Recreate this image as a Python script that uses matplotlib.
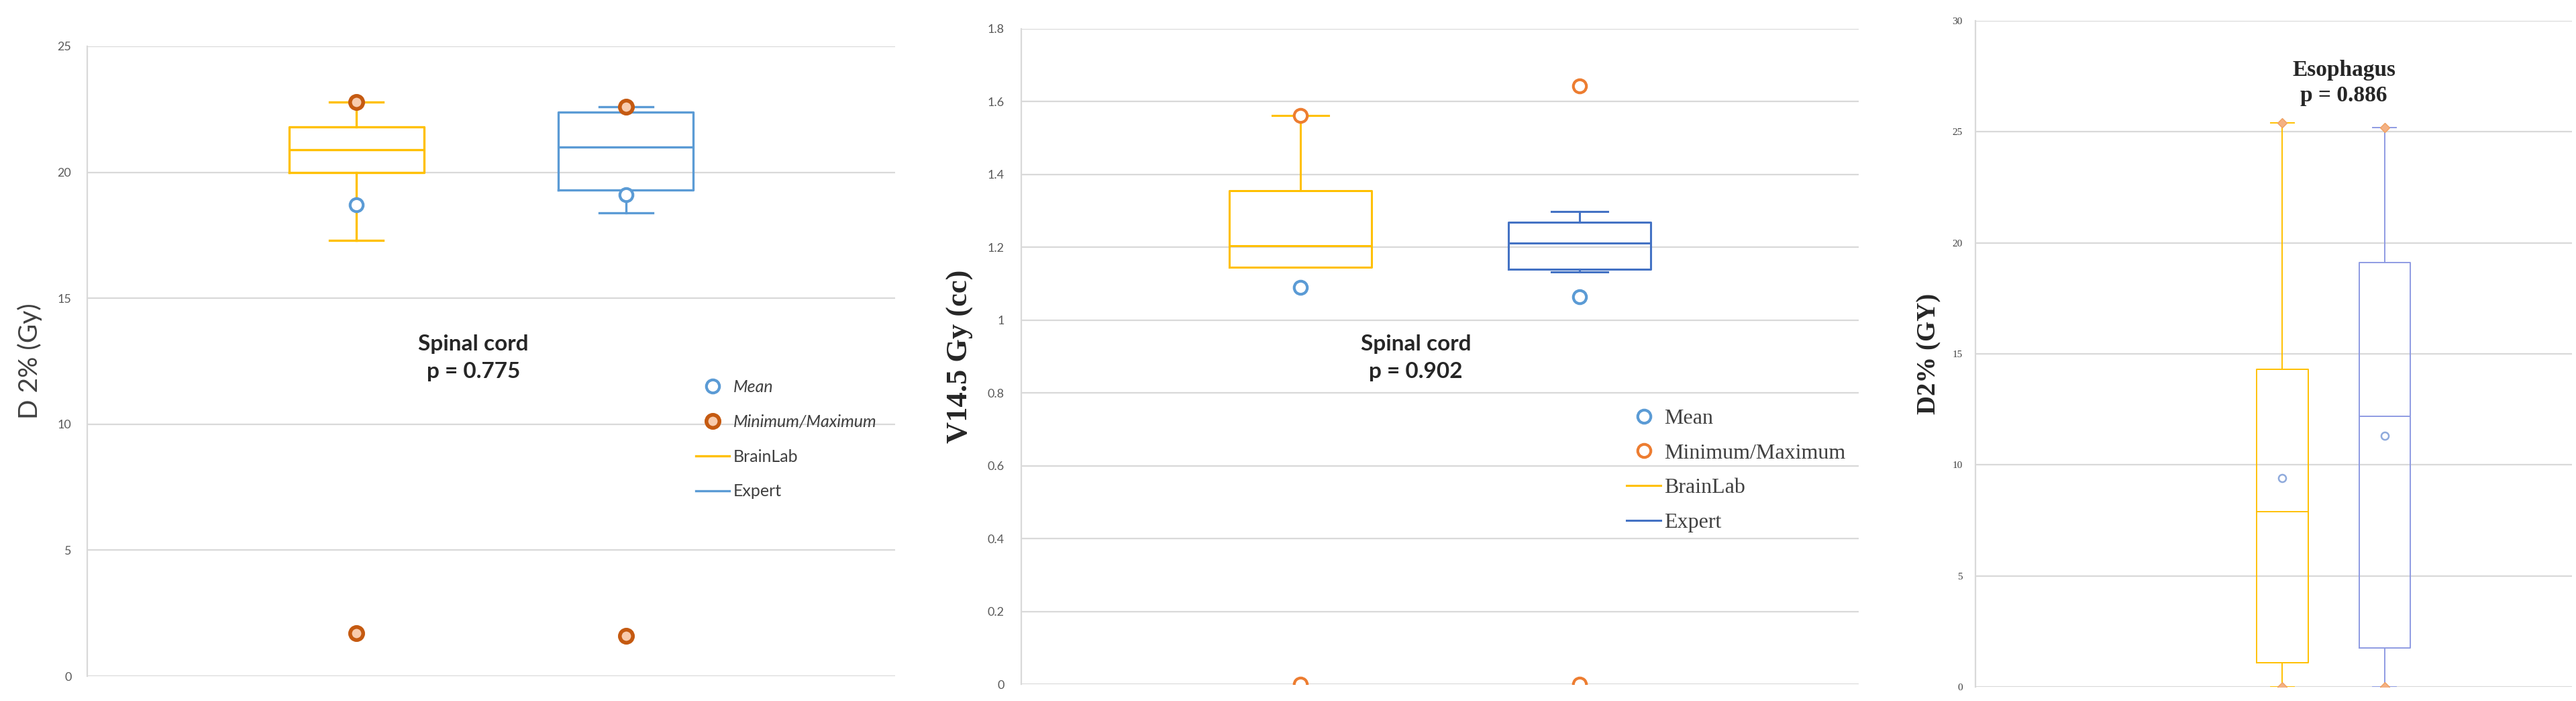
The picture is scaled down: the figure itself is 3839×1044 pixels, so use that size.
import matplotlib
matplotlib.use("Agg")
import matplotlib.pyplot as plt
from matplotlib.lines import Line2D

# --------- data ---------------------------------
groups = ["BrainLab", "Expert"]

# panel 1 : spinal cord D 2%
p1_q1 = [20.0, 19.3]
p1_med = [20.9, 21.0]
p1_q3 = [21.8, 22.4]
p1_lo = [17.3, 18.4]
p1_hi = [22.8, 22.6]
p1_mean = [18.7, 19.1]
p1_min = [1.7, 1.6]
p1_max = [22.8, 22.6]

# panel 2 : spinal cord V14.5 Gy
p2_q1 = [1.145, 1.14]
p2_med = [1.205, 1.212]
p2_q3 = [1.355, 1.268]
p2_lo = [1.145, 1.133]
p2_hi = [1.562, 1.298]
p2_mean = [1.09, 1.065]
p2_min = [0.0, 0.0]
p2_max = [1.562, 1.644]

# panel 3 : esophagus D2%
p3_q1 = [1.1, 1.75]
p3_med = [7.9, 12.2]
p3_q3 = [14.3, 19.1]
p3_lo = [0.0, 0.0]
p3_hi = [25.4, 25.2]
p3_mean = [9.4, 11.3]
p3_min = [0.0, 0.0]
p3_max = [25.4, 25.2]

W, H = 3839, 1044
fig = plt.figure(figsize=(W / 100, H / 100), dpi=100)

GRID = "#D9D9D9"
SANS = "Lato"
SERIF = "Liberation Serif"


def make_axes(rect, ylim, step, tick_font, tick_size, tick_color, pad):
    ax = fig.add_axes(rect)
    ax.set_ylim(*ylim)
    n = int(round((ylim[1] - ylim[0]) / step))
    ticks = [round(ylim[0] + i * step, 6) for i in range(n + 1)]
    ax.set_yticks(ticks)
    ax.set_yticklabels([f"{t:g}" for t in ticks], fontfamily=tick_font,
                       fontsize=tick_size, color=tick_color)
    ax.tick_params(axis="y", length=0, pad=pad)
    ax.tick_params(axis="x", length=0, labelbottom=False)
    ax.yaxis.grid(True, color=GRID, linewidth=1.6)
    ax.set_axisbelow(True)
    for s in ["top", "right", "bottom"]:
        ax.spines[s].set_visible(False)
    ax.spines["left"].set_color(GRID)
    ax.spines["left"].set_linewidth(1.6)
    return ax


def draw_boxes(ax, q1, med, q3, lo, hi, colors, lw, width, capw):
    for i in range(len(groups)):
        st = dict(q1=q1[i], med=med[i], q3=q3[i], whislo=lo[i], whishi=hi[i], fliers=[])
        props = dict(color=colors[i], linewidth=lw)
        ax.bxp([st], positions=[i + 1], widths=width, capwidths=capw,
               showfliers=False, manage_ticks=False,
               boxprops=props, whiskerprops=props, capprops=props, medianprops=props)


pos = [1, 2]

# ================= panel 1 =================
ax1 = make_axes([130 / W, 1 - 1007 / H, 1204 / W, 938 / H], (0, 25), 5,
                SANS, 13, "#595959", 17)
ax1.set_xlim(0, 3)
c1 = ["#FFC000", "#5B9BD5"]
draw_boxes(ax1, p1_q1, p1_med, p1_q3, p1_lo, p1_hi, c1, 2.4, 0.5, 0.2)
ax1.plot(pos, p1_mean, "o", ms=14, mfc="white", mec="#5B9BD5", mew=3, ls="none", zorder=5)
ax1.plot(pos, p1_min, "o", ms=14, mfc="#F8CBAD", mec="#C55A11", mew=4, ls="none", zorder=5)
ax1.plot(pos, p1_max, "o", ms=14, mfc="#F8CBAD", mec="#C55A11", mew=4, ls="none", zorder=5)
ax1.text(1.434, 12.63, "Spinal cord\np = 0.775", ha="center", va="center",
         fontfamily=SANS, fontweight="bold", fontsize=24, color="#262626", linespacing=1.5)
ax1.set_ylabel("D 2% (Gy)", fontfamily=SANS, fontsize=28, color="#404040")
ax1.yaxis.set_label_coords(-0.056, 0.5)
h1 = [
    Line2D([], [], ls="none", marker="o", ms=14, mfc="white", mec="#5B9BD5", mew=3),
    Line2D([], [], ls="none", marker="o", ms=14, mfc="#F8CBAD", mec="#C55A11", mew=4),
    Line2D([], [], color="#FFC000", lw=2.4),
    Line2D([], [], color="#5B9BD5", lw=2.4),
]
leg1 = ax1.legend(h1, ["Mean", "Minimum/Maximum"] + groups, loc="upper left",
                  bbox_to_anchor=(0.735, 0.495), frameon=False, handlelength=2.0,
                  handletextpad=0.2, labelspacing=1.15,
                  prop=dict(family=SANS, size=18))
for i, t in enumerate(leg1.get_texts()):
    t.set_color("#404040")
    if i < 2:
        t.set_style("italic")

# ================= panel 2 =================
ax2 = make_axes([1522 / W, 1 - 1019 / H, 1248 / W, 976 / H], (0, 1.8), 0.2,
                SANS, 13, "#595959", 18)
ax2.set_xlim(0, 3)
c2 = ["#FFC000", "#4472C4"]
draw_boxes(ax2, p2_q1, p2_med, p2_q3, p2_lo, p2_hi, c2, 2.2, 0.51, 0.2)
ax2.plot(pos, p2_mean, "o", ms=14, mfc="white", mec="#5B9BD5", mew=3, ls="none", zorder=5)
ax2.plot(pos, p2_min, "o", ms=14, mfc="white", mec="#ED7D31", mew=3, ls="none", zorder=5)
ax2.plot(pos, p2_max, "o", ms=14, mfc="white", mec="#ED7D31", mew=3, ls="none", zorder=5)
ax2.text(1.414, 0.897, "Spinal cord\np = 0.902", ha="center", va="center",
         fontfamily=SANS, fontweight="bold", fontsize=24, color="#262626", linespacing=1.5)
ax2.set_ylabel("V14.5 Gy (cc)", fontfamily=SERIF, fontweight="bold", fontsize=32, color="#262626")
ax2.yaxis.set_label_coords(-0.057, 0.5)
h2 = [
    Line2D([], [], ls="none", marker="o", ms=14, mfc="white", mec="#5B9BD5", mew=3),
    Line2D([], [], ls="none", marker="o", ms=14, mfc="white", mec="#ED7D31", mew=3),
    Line2D([], [], color="#FFC000", lw=2.2),
    Line2D([], [], color="#4472C4", lw=2.2),
]
leg2 = ax2.legend(h2, ["Mean", "Minimum/Maximum"] + groups, loc="upper left",
                  bbox_to_anchor=(0.7, 0.45), frameon=False, handlelength=1.6,
                  handletextpad=0.15, labelspacing=0.7,
                  prop=dict(family=SERIF, size=23))
for t in leg2.get_texts():
    t.set_color("#404040")

# ================= panel 3 =================
ax3 = make_axes([2944 / W, 1 - 1023 / H, 889 / W, 992 / H], (0, 30), 5,
                SERIF, 11, "#404040", 14)
ax3.set_xlim(-2, 3.83)
c3 = ["#FFC000", "#8E9BE3"]
draw_boxes(ax3, p3_q1, p3_med, p3_q3, p3_lo, p3_hi, c3, 1.4, 0.5, 0.23)
ax3.plot(pos, p3_mean, "o", ms=8, mfc="white", mec="#8FAADC", mew=1.8, ls="none", zorder=5)
ax3.plot(pos, p3_min, "D", ms=7, mfc="#F4B183", mec="#F0A060", ls="none", zorder=5)
ax3.plot(pos, p3_max, "D", ms=7, mfc="#F4B183", mec="#F0A060", ls="none", zorder=5)
ax3.text(1.6, 27.2, "Esophagus\np = 0.886", ha="center", va="center",
         fontfamily=SERIF, fontweight="bold", fontsize=24, color="#262626", linespacing=1.3)
ax3.set_ylabel("D2% (GY)", fontfamily=SERIF, fontweight="bold", fontsize=28, color="#262626")
ax3.yaxis.set_label_coords(-0.057, 0.5)

fig.savefig("out.png", dpi=100, facecolor="white")
